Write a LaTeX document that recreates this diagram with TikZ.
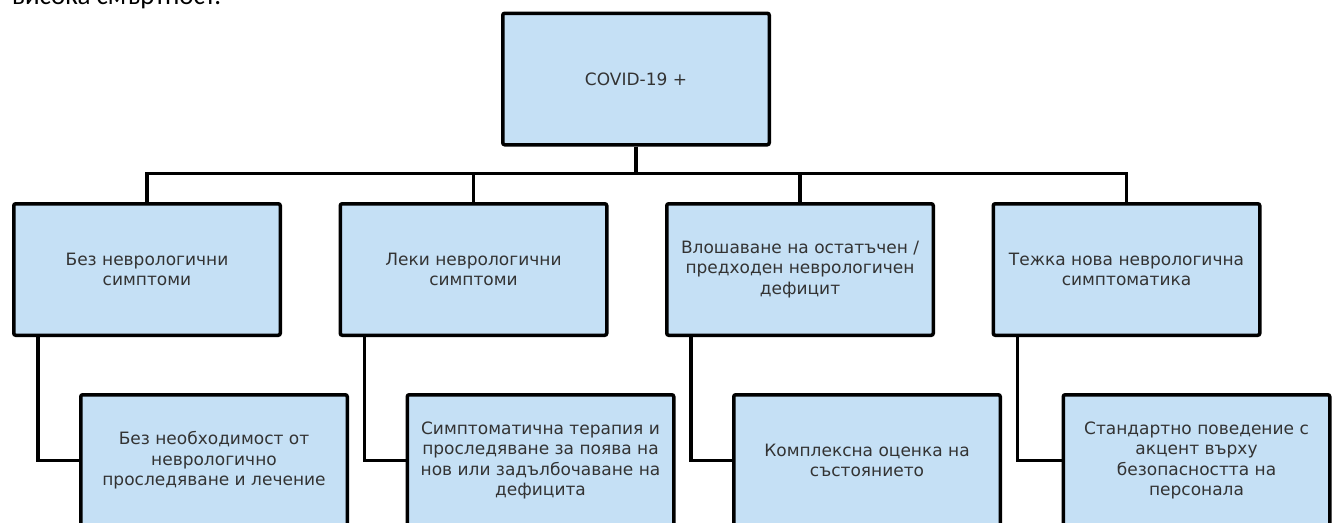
\documentclass[tikz,border=0pt]{standalone}
\usepackage{fontspec}
\setmainfont{DejaVu Sans}
\newfontfamily\pagefont{Carlito}
\usetikzlibrary{positioning}
\definecolor{boxblue}{RGB}{197,224,245}
\tikzset{
  box/.style={rectangle, draw=black, fill=boxblue, line width=3.5pt, rounded corners=2pt,
              minimum width=266.5pt, minimum height=131.5pt, inner sep=4pt, align=center,
              text=black!80, font=\fontsize{17}{20.5}\selectfont},
  link/.style={line width=3.5pt},
}

\begin{document}
\begin{tikzpicture}[x=1pt, y=-1pt]
  \useasboundingbox (0,0) rectangle (1335,522);
  \clip (0,0) rectangle (1335,522);

  % tail of the paragraph above the chart
  \node[anchor=base west, inner sep=0pt, font=\pagefont\fontsize{27}{30}\selectfont] (tail) at (12,5) {висока смъртност.};

  \node[box] (covid) at (636,79) {COVID-19 +};

  % symptoms
  \node[box] (sym1) at (147,269.5) {Без неврологични\\симптоми};
  \node[box, right=56.5pt of sym1] (sym2) {Леки неврологични\\симптоми};
  \node[box, right=56.5pt of sym2] (sym3) {Влошаване на остатъчен /\\предходен неврологичен\\дефицит};
  \node[box, right=56.5pt of sym3] (sym4) {Тежка нова неврологична\\симптоматика};

  % actions
  \node[box, below=56pt of sym1, xshift=67pt] (act1) {Без необходимост от\\неврологично\\проследяване и лечение};
  \node[box, below=56pt of sym2, xshift=67pt] (act2) {Симптоматична терапия и\\проследяване за поява на\\нов или задълбочаване на\\дефицита};
  \node[box, below=56pt of sym3, xshift=67pt] (act3) {Комплексна оценка на\\състоянието};
  \node[box, below=56pt of sym4, xshift=70pt] (act4) {Стандартно поведение с\\акцент върху\\безопасността на\\персонала};

  \foreach \n in {1,...,4}
    \draw[link] (covid.south) -- ++(0,27) -| (sym\n.north);
  \foreach \n in {1,...,4}
    \draw[link] ([xshift=26pt]sym\n.south west) |- (act\n.west);
\end{tikzpicture}
\end{document}
